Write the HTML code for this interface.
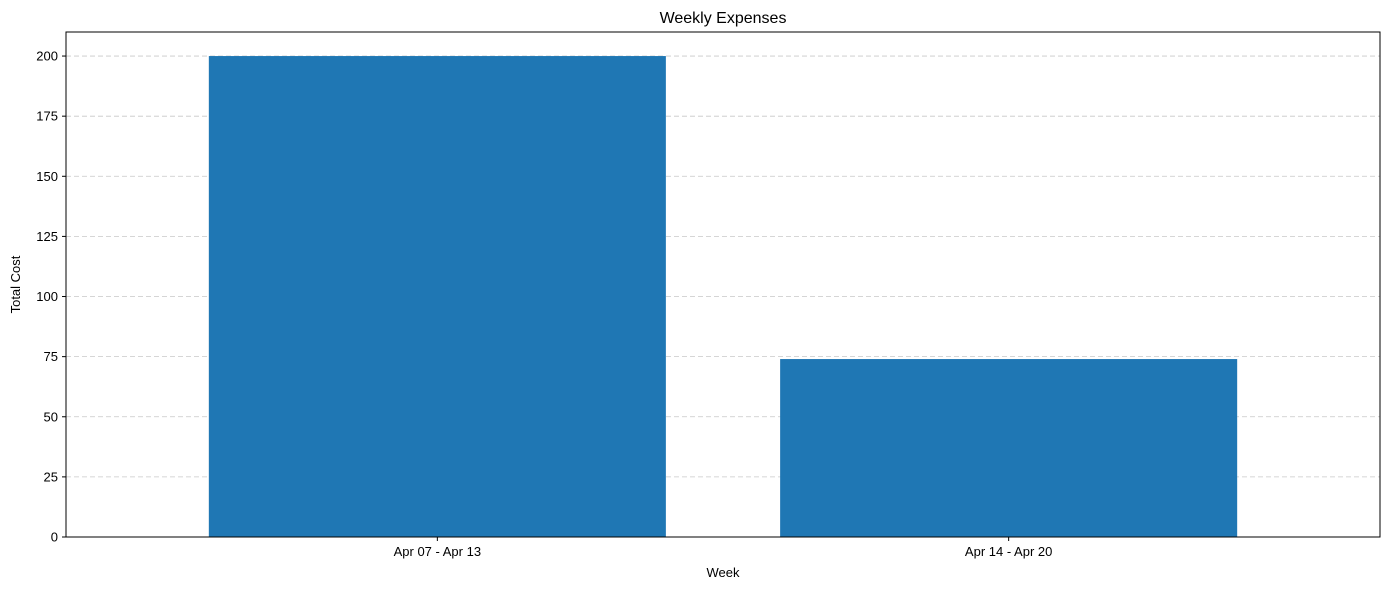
<!DOCTYPE html>
<html><head><meta charset="utf-8"><style>
body{margin:0;background:#fff;}
svg text{font-family:"Liberation Sans","DejaVu Sans",sans-serif;fill:#000;}
</style></head><body>
<svg id="chart" width="1389" height="590" viewBox="0 0 1389 590">
<text x="723" y="23" font-size="16" text-anchor="middle">Weekly Expenses</text>
<g id="grid"></g><g id="bars"></g><g id="axes"></g>
<text x="723" y="577" font-size="13" text-anchor="middle">Week</text>
<text x="20" y="284.5" font-size="13" text-anchor="middle" transform="rotate(-90 20 284.5)">Total Cost</text>
</svg>
<script>
const categories = ["Apr 07 - Apr 13", "Apr 14 - Apr 20"];
const values = [200, 74];
const yTicks = [0, 25, 50, 75, 100, 125, 150, 175, 200];
const L=66,R=1380,T=32,B=537,yMax=210,xMin=-0.65,xMax=1.65;
const NS="http://www.w3.org/2000/svg";
function y(v){return B-(v/yMax)*(B-T);}
function x(i){return L+(i-xMin)/(xMax-xMin)*(R-L);}
function mk(t,a,p){const e=document.createElementNS(NS,t);for(const k in a)e.setAttribute(k,a[k]);p.appendChild(e);return e;}
const grid=document.getElementById('grid'),bars=document.getElementById('bars'),axes=document.getElementById('axes');
yTicks.forEach(v=>{
 const g=mk('line',{x1:L,x2:R,y1:y(v),y2:y(v),stroke:'#c8c8c8','stroke-dasharray':'5,3','stroke-width':0.8},grid);
 
 
 const tk=mk('line',{x1:L-4,x2:L,y1:y(v),y2:y(v),stroke:'#000'},axes);
 
 
 const t=mk('text',{x:L-8,y:y(v)+4.5,'font-size':13,'text-anchor':'end'},axes);
 t.textContent=v;
 
 
});
const bw=0.8*(x(1)-x(0));
categories.forEach((c,i)=>{
 const r=mk('rect',{x:x(i)-bw/2,y:y(values[i]),width:bw,height:B-y(values[i]),fill:'#1f77b4'},bars);
 
 
 const tk=mk('line',{x1:x(i),x2:x(i),y1:B,y2:B+4,stroke:'#000'},axes);
 
 
 const t=mk('text',{x:x(i),y:B+19,'font-size':13,'text-anchor':'middle'},axes);
 t.textContent=c;
 
 
});
const f=mk('rect',{x:L,y:T,width:R-L,height:B-T,fill:'none',stroke:'#000','stroke-width':1},axes);


</script>
</body></html>
